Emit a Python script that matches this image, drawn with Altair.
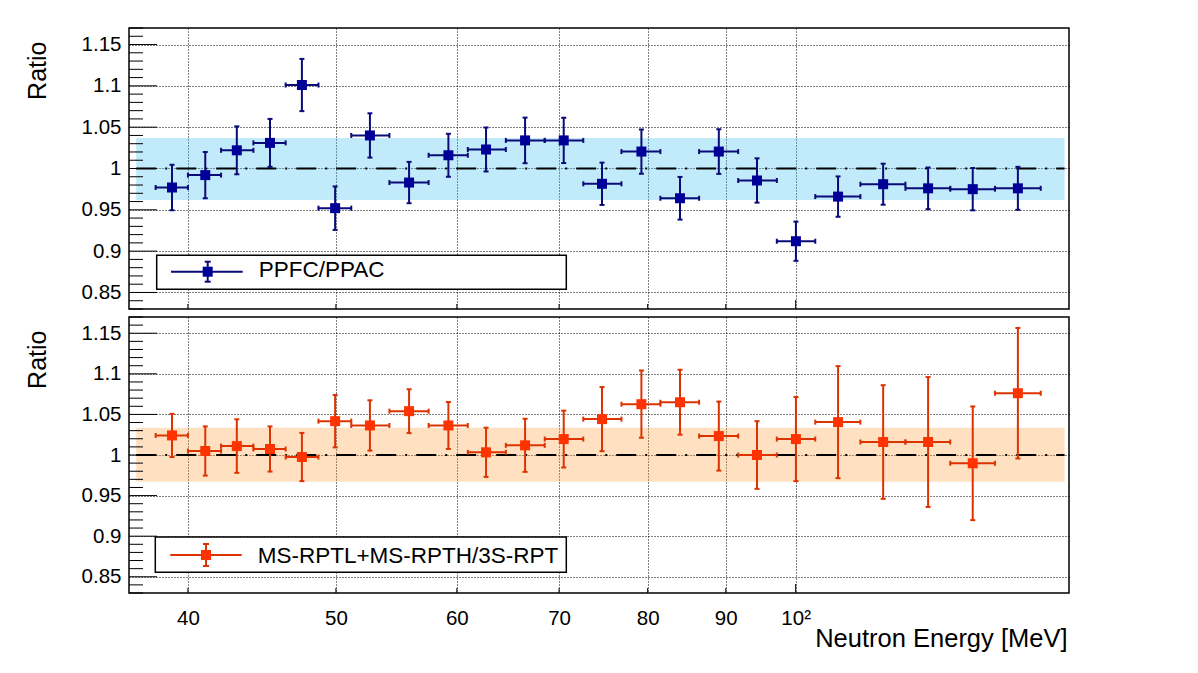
import altair as alt
import pandas as pd

# ---------------- data ----------------
energy = [39.05, 41.06, 43.06, 45.27, 47.50, 49.94, 52.63, 55.83, 59.24, 62.70,
          66.5, 70.49, 74.68, 79.25, 84.0, 89.06, 94.34, 100.04, 106.6, 114.1,
          122.1, 130.6, 139.8]
bin_edges = [38.1, 40.0, 42.05, 44.15, 46.35, 48.7, 51.17, 54.2, 57.5, 61.0,
             64.6, 68.5, 72.6, 76.9, 81.55, 86.45, 91.7, 97.2, 103.0, 110.25,
             118.0, 126.25, 135.05, 144.7]

ppfc_ratio = [0.977, 0.992, 1.022, 1.031, 1.101, 0.952, 1.040, 0.983, 1.016, 1.023,
              1.034, 1.034, 0.9815, 1.0205, 0.964, 1.0205, 0.9855, 0.912, 0.966, 0.981,
              0.976, 0.975, 0.976]
ppfc_err = [0.0275, 0.028, 0.029, 0.029, 0.0316, 0.0263, 0.0268, 0.025, 0.026, 0.0266,
            0.0276, 0.0274, 0.0256, 0.0268, 0.0258, 0.027, 0.0268, 0.0237, 0.0244, 0.0248,
            0.0252, 0.0256, 0.026]

rpt_ratio = [1.0241, 1.0049, 1.011, 1.0074, 0.9975, 1.0417, 1.0364, 1.054, 1.0364, 1.0033,
             1.0119, 1.0196, 1.0442, 1.0626, 1.065, 1.0233, 1.0, 1.0196, 1.0405, 1.016,
             1.016, 0.9898, 1.0761]
rpt_err = [0.0266, 0.0303, 0.033, 0.0278, 0.0297, 0.0323, 0.031, 0.027, 0.0289, 0.0303,
           0.0327, 0.035, 0.0395, 0.0415, 0.040, 0.0425, 0.0417, 0.0518, 0.069, 0.070,
           0.080, 0.070, 0.0804]

band_energy = [37.0, 150.0]
ppfc_band = [0.962, 1.037]
rpt_band = [0.967, 1.0335]
unity = [1.0]

x_ticks = [40, 50, 60, 70, 80, 90, 100]
y_major = [0.85, 0.9, 0.95, 1.0, 1.05, 1.1, 1.15]
y_minor = [0.83, 0.84, 0.86, 0.87, 0.88, 0.89, 0.91, 0.92, 0.93, 0.94, 0.96, 0.97,
           0.98, 0.99, 1.01, 1.02, 1.03, 1.04, 1.06, 1.07, 1.08, 1.09, 1.11, 1.12,
           1.13, 1.14, 1.16, 1.17]

FONT = "Liberation Sans"
W = 940


def panel(ratio, err, band, mcol, ecol, bandcol, label, height, show_x, leg):
    df = pd.DataFrame({
        "energy": energy,
        "elo": bin_edges[:-1],
        "ehi": bin_edges[1:],
        "ratio": ratio,
        "ylo": [r - e for r, e in zip(ratio, err)],
        "yhi": [r + e for r, e in zip(ratio, err)],
    })
    band_df = pd.DataFrame({"x0": [band_energy[0]], "x1": [band_energy[1]],
                            "y0": [band[0]], "y1": [band[1]], "one": unity})
    xt_df = pd.DataFrame({"t": x_ticks[:-1]})
    xt100_df = pd.DataFrame({"t": x_ticks[-1:]})
    ymaj_df = pd.DataFrame({"t": y_major})
    ymin_df = pd.DataFrame({"t": y_minor})
    leg_df = pd.DataFrame({"label": [label]})

    xscale = alt.Scale(type="log", domain=[36.6, 151], nice=False)
    yscale = alt.Scale(domain=[0.83, 1.17], nice=False, zero=False)

    if show_x:
        xaxis = alt.Axis(values=x_ticks, grid=True, gridDash=[1, 2], gridColor="black",
                         gridOpacity=1, gridWidth=1, domain=False, ticks=False, tickSize=0,
                         labelFont=FONT, labelFontSize=20.5, labelColor="black",
                         labelBaseline="alphabetic", labelPadding=31, labelFlush=False,
                         labelOverlap=False,
                         labelExpr="datum.value == 100 ? '10\u00b2' : format(datum.value, 'd')",
                         title="Neutron Energy [MeV]", titleFont=FONT, titleFontSize=25.5,
                         titleFontWeight="normal", titleColor="black", titleAlign="right",
                         titleBaseline="alphabetic", titleX=938, titleY=53)
    else:
        xaxis = alt.Axis(values=x_ticks, grid=True, gridDash=[1, 2], gridColor="black",
                         gridOpacity=1, gridWidth=1, domain=False, ticks=False, tickSize=0,
                         labels=False, title=None)
    yaxis = alt.Axis(values=y_major, grid=True, gridDash=[1, 2], gridColor="black",
                     gridOpacity=1, gridWidth=1, domain=False, ticks=False, tickSize=0,
                     format="~g", labelFont=FONT, labelFontSize=20.5, labelColor="black",
                     labelPadding=8, labelOverlap=False,
                     title="Ratio", titleFont=FONT, titleFontSize=25, titleFontWeight="normal",
                     titleColor="black", titleAngle=270, titleAlign="right",
                     titleBaseline="middle", titleX=-92, titleY=13)

    def X(f):
        return alt.X(f, type="quantitative", scale=xscale, axis=xaxis)

    def Y(f):
        return alt.Y(f, type="quantitative", scale=yscale, axis=yaxis)

    band_layer = alt.Chart(band_df).mark_rect(color=bandcol, opacity=0.3).encode(
        x=X("x0"), x2="x1", y=Y("y0"), y2="y1")
    unity_layer = alt.Chart(band_df).mark_rule(
        color="black", strokeWidth=2, strokeDash=[20, 9, 2, 9]).encode(
        x=X("x0"), x2="x1", y=Y("one"))

    base = alt.Chart(df)
    vbar = base.mark_rule(color=ecol, strokeWidth=2).encode(x=X("energy"), y=Y("ylo"), y2="yhi")
    hbar = base.mark_rule(color=ecol, strokeWidth=2).encode(x=X("elo"), x2="ehi", y=Y("ratio"))
    cap_hi = base.mark_tick(color=ecol, orient="horizontal", size=5, thickness=2, opacity=1).encode(
        x=X("energy"), y=Y("yhi"))
    cap_lo = base.mark_tick(color=ecol, orient="horizontal", size=5, thickness=2, opacity=1).encode(
        x=X("energy"), y=Y("ylo"))
    cap_l = base.mark_tick(color=ecol, orient="vertical", size=5, thickness=2, opacity=1).encode(
        x=X("elo"), y=Y("ratio"))
    cap_r = base.mark_tick(color=ecol, orient="vertical", size=5, thickness=2, opacity=1).encode(
        x=X("ehi"), y=Y("ratio"))
    pts = base.mark_square(color=mcol, size=100, opacity=1, filled=True).encode(
        x=X("energy"), y=Y("ratio"))

    # inward axis ticks
    xt = alt.Chart(xt_df).mark_rule(color="black", strokeWidth=1).encode(
        x=X("t"), y=alt.value(height), y2=alt.value(height - 5))
    xt100 = alt.Chart(xt100_df).mark_rule(color="black", strokeWidth=1).encode(
        x=X("t"), y=alt.value(height), y2=alt.value(height - 9))
    ymaj = alt.Chart(ymaj_df).mark_rule(color="black", strokeWidth=1).encode(
        y=Y("t"), x=alt.value(0), x2=alt.value(28))
    ymin = alt.Chart(ymin_df).mark_rule(color="black", strokeWidth=1).encode(
        y=Y("t"), x=alt.value(0), x2=alt.value(14))

    # legend box
    bx0, by0, bx1, by1, lx0, lx1, ly, cx, eh, tx, ty = leg
    lbox = alt.Chart(leg_df).mark_rect(fill="white", stroke="black", strokeWidth=1.5).encode(
        x=alt.value(bx0), x2=alt.value(bx1), y=alt.value(by0), y2=alt.value(by1))
    lline = alt.Chart(leg_df).mark_rule(color=ecol, strokeWidth=2).encode(
        x=alt.value(lx0), x2=alt.value(lx1), y=alt.value(ly))
    lvert = alt.Chart(leg_df).mark_rule(color=ecol, strokeWidth=2).encode(
        x=alt.value(cx), y=alt.value(ly - eh), y2=alt.value(ly + eh))
    lcap1 = alt.Chart(leg_df).mark_rule(color=ecol, strokeWidth=2).encode(
        x=alt.value(cx - 3), x2=alt.value(cx + 3), y=alt.value(ly - eh))
    lcap2 = alt.Chart(leg_df).mark_rule(color=ecol, strokeWidth=2).encode(
        x=alt.value(cx - 3), x2=alt.value(cx + 3), y=alt.value(ly + eh))
    lsq = alt.Chart(leg_df).mark_square(color=mcol, size=100, opacity=1, filled=True).encode(
        x=alt.value(cx), y=alt.value(ly))
    ltxt = alt.Chart(leg_df).mark_text(align="left", baseline="alphabetic", font=FONT,
                                       fontSize=22.5, color="black").encode(
        x=alt.value(tx), y=alt.value(ty), text="label:N")

    return alt.layer(band_layer, unity_layer, vbar, hbar, cap_hi, cap_lo, cap_l, cap_r, pts,
                     lbox, lline, lvert, lcap1, lcap2, lsq, ltxt,
                     xt, xt100, ymaj, ymin).properties(width=W, height=height)


top = panel(ppfc_ratio, ppfc_err, ppfc_band, "#000099", "#0a0a78", "#33bbee",
            "PPFC/PPAC", 281, False,
            (27.7, 227.3, 437.3, 261.3, 42, 113.7, 243.7, 78.7, 10, 129.7, 249.0))
bottom = panel(rpt_ratio, rpt_err, rpt_band, "#ff3300", "#dd3300", "#ff9933",
               "MS-RPTL+MS-RPTH/3S-RPT", 276, True,
               (26.3, 220.0, 437.3, 255.3, 41.3, 112.7, 238.0, 77.0, 11, 128.7, 245.8))

chart = alt.vconcat(top, bottom, spacing=4).properties(
    padding={"left": 16, "top": 18, "right": 10, "bottom": 10},
    background="white",
).configure_view(stroke="black", strokeWidth=1.5)

chart.save("out.html", embed_options={"renderer": "svg", "actions": False})
